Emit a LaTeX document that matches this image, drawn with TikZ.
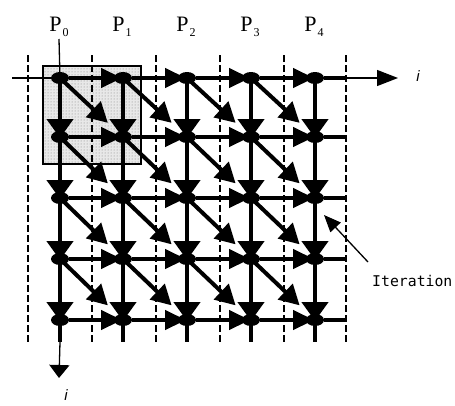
\documentclass[tikz,border=0pt]{standalone}
\usepackage{fontspec}
\setmainfont{Liberation Serif}
\newfontfamily\monofont{DejaVu Sans Mono}
\newfontfamily\sansfont{Liberation Sans}
\usetikzlibrary{arrows.meta,calc,patterns,shapes.geometric}
\begin{document}
\begin{tikzpicture}[x=1pt,y=-1pt,
  dot/.style={ellipse, fill=black, minimum width=18pt, minimum height=12pt, inner sep=0pt},
  gridline/.style={line width=4.5pt},
  harr/.style={gridline, -{Triangle[length=21pt,width=19pt]}},
  varr/.style={gridline, -{Triangle[length=19pt,width=26pt]}},
  darr/.style={line width=4pt, -{Triangle[length=20pt,width=21pt]}},
  axisline/.style={line width=1.3pt},
  sepline/.style={line width=1.8pt, dash pattern=on 7pt off 3pt},
  plab/.style={font=\fontsize{22}{22}\selectfont, anchor=base, inner sep=0pt},
  ilab/.style={font=\sansfont\itshape\fontsize{15}{15}\selectfont, inner sep=0pt},
]
\useasboundingbox (0,0) rectangle (455,405);
% shaded block
\fill[gray!18] (43,66) rectangle (141,164);
\fill[pattern=dots, pattern color=gray] (43,66) rectangle (141,164);
\draw[line width=1.2pt] (43,66) rectangle (141,164);
% processor separators
\foreach \i/\x in {0/28,1/92,2/156,3/220,4/284,5/346} {
  \coordinate (dt\i) at (\x,55);
  \coordinate (db\i) at (\x,342);
  \draw[sepline] (dt\i) -- (db\i);
}
% nodes
\foreach \c/\x in {0/60,1/123,2/187,3/251,4/315} {
  \foreach \r/\y in {0/78,1/137,2/198,3/259,4/320} {
    \node[dot] (n-\c-\r) at (\x,\y) {};
  }
  \node[plab] (p\c) at ({\x-1},31.5) {P\kern1pt\raisebox{-5pt}{\fontsize{12}{12}\selectfont \c}};
  \coordinate (cb\c) at (\x,342);
  \draw[gridline] (n-\c-4) -- (cb\c);
}
\foreach \r/\y in {0/78,1/137,2/198,3/259,4/320} {
  \coordinate (re\r) at (346,\y);
  \draw[gridline] (n-4-\r) -- (re\r);
}
% horizontal and vertical dependences
\foreach \c [evaluate=\c as \cn using int(\c+1)] in {0,1,2,3} {
  \foreach \r in {0,1,2,3,4} {
    \draw[harr] (n-\c-\r) -- ([xshift=-1pt]n-\cn-\r.center);
    \draw[varr] (n-\r-\c) -- ([yshift=-1pt]n-\r-\cn.center);
  }
}
% diagonal dependences
\foreach \c [evaluate=\c as \cn using int(\c+1)] in {0,1,2,3} {
  \foreach \r [evaluate=\r as \rn using int(\r+1)] in {0,1,2,3} {
    \draw[darr] (n-\c-\r.center) -- ($(n-\c-\r)!0.76!(n-\cn-\rn)$);
  }
}
% axes
\coordinate (axl) at (12,78);
\coordinate (axr) at (398,78);
\coordinate (ayt) at (59,39);
\coordinate (ayb) at (59,378);
\draw[axisline] (axl) -- (n-0-0);
\draw[axisline, -{Triangle[length=21pt,width=16pt]}] (re0) -- (axr);
\draw[axisline] (ayt) -- (n-0-0);
\draw[axisline, -{Triangle[length=13pt,width=20pt]}] (cb0) -- (ayb);
\node[ilab] (ih) at (418,76) {i};
\node[ilab] (iv) at (66,395) {i};
% iteration label
\node[font=\monofont\fontsize{14.8}{15}\selectfont, anchor=west, inner sep=0pt] (it) at (372,281) {Iteration};
\coordinate (itail) at (368,262);
\coordinate (itip) at (324,215);
\draw[axisline, -{Triangle[length=17pt,width=14pt]}] (itail) -- (itip);
\end{tikzpicture}
\end{document}
